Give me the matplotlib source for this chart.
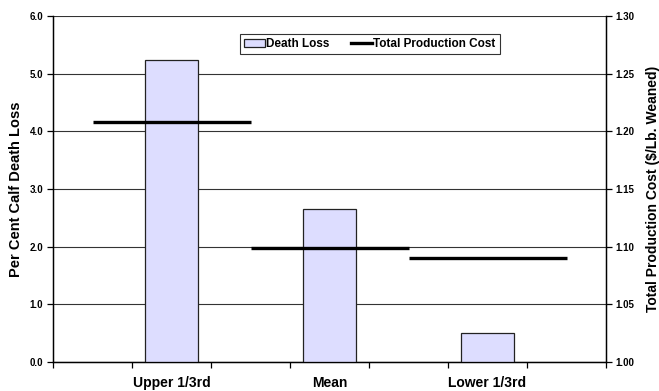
import matplotlib
matplotlib.use("Agg")
import matplotlib.pyplot as plt
from matplotlib.ticker import FormatStrFormatter, MultipleLocator
from matplotlib.lines import Line2D
from matplotlib.patches import Patch

plt.rcParams['font.family'] = ['Liberation Sans', 'DejaVu Sans']

groups = ["Upper 1/3rd", "Mean", "Lower 1/3rd"]
death_loss = [5.24, 2.65, 0.51]          # per cent calf death loss
total_cost = [1.208, 1.0985, 1.09]       # $/lb weaned

# Seven category slots: bars sit in the odd slots, cost segments span slot centres
n_slots = 7
bar_slots = [1, 3, 5]
seg_spans = [(0, 2), (2, 4), (4, 6)]

fig = plt.figure(figsize=(6.59, 3.91), dpi=100)
ax = fig.add_axes([53/659, 29/391, 553/659, 346/391])
ax2 = ax.twinx()

bar_color = "#DDDDFF"
centres = [s + 0.5 for s in bar_slots]
ax.bar(centres, death_loss, width=0.67, color=bar_color, edgecolor="#222222",
       linewidth=0.9, zorder=3)

for (a, b), v in zip(seg_spans, total_cost):
    ax2.plot([a + 0.5, b + 0.5], [v, v], color="black", linewidth=2.4,
             solid_capstyle="butt", zorder=4)

ax.set_xlim(0, n_slots)
ax.set_ylim(0, 6.0)
ax2.set_ylim(1.00, 1.30)

ax.yaxis.set_major_locator(MultipleLocator(1.0))
ax.yaxis.set_major_formatter(FormatStrFormatter("%.1f"))
ax2.yaxis.set_major_locator(MultipleLocator(0.05))
ax2.yaxis.set_major_formatter(FormatStrFormatter("%.2f"))

ax.grid(axis="y", color="#333333", linewidth=0.8, zorder=0)
ax.set_axisbelow(True)

ax.set_xticks(range(n_slots + 1))
ax.set_xticklabels([])
ax.set_xticks(centres, minor=True)
ax.set_xticklabels(groups, minor=True, fontsize=10, fontweight="bold")
ax.tick_params(axis="x", which="minor", length=0, pad=10)
ax.tick_params(axis="x", which="major", length=4, width=0.9, direction="out")

ax.tick_params(axis="y", length=4, width=0.9, labelsize=7, pad=3)
ax2.tick_params(axis="y", length=4, width=0.9, labelsize=7, pad=3)
for lbl in ax.get_yticklabels() + ax2.get_yticklabels():
    lbl.set_fontweight("bold")

for sp in ["left", "bottom"]:
    ax.spines[sp].set_linewidth(1.0)
ax.spines["top"].set_visible(False)
ax2.spines["top"].set_visible(False)
ax2.spines["right"].set_linewidth(1.0)

ax.set_ylabel("Per Cent Calf Death Loss", fontsize=10.5, fontweight="bold")
ax2.set_ylabel("Total Production Cost ($/Lb. Weaned)", fontsize=10,
               fontweight="bold")
ax.yaxis.set_label_coords(-30/553, 0.5)
ax2.yaxis.set_label_coords(1 + 40/553, 0.5)

handles = [Patch(facecolor=bar_color, edgecolor="#222222", linewidth=0.9),
           Line2D([0], [0], color="black", linewidth=2.4)]
leg = ax2.legend(handles, ["Death Loss", "Total Production Cost"],
                 loc="upper center", bbox_to_anchor=(0.573, 0.948), ncol=2,
                 frameon=True, fancybox=False, edgecolor="black",
                 prop={"size": 8.5, "weight": "bold"}, handlelength=1.8,
                 handletextpad=0.1, columnspacing=1.8, borderpad=0.35,
                 borderaxespad=0)
leg.get_frame().set_linewidth(0.8)

fig.savefig("out.png", dpi=100)
